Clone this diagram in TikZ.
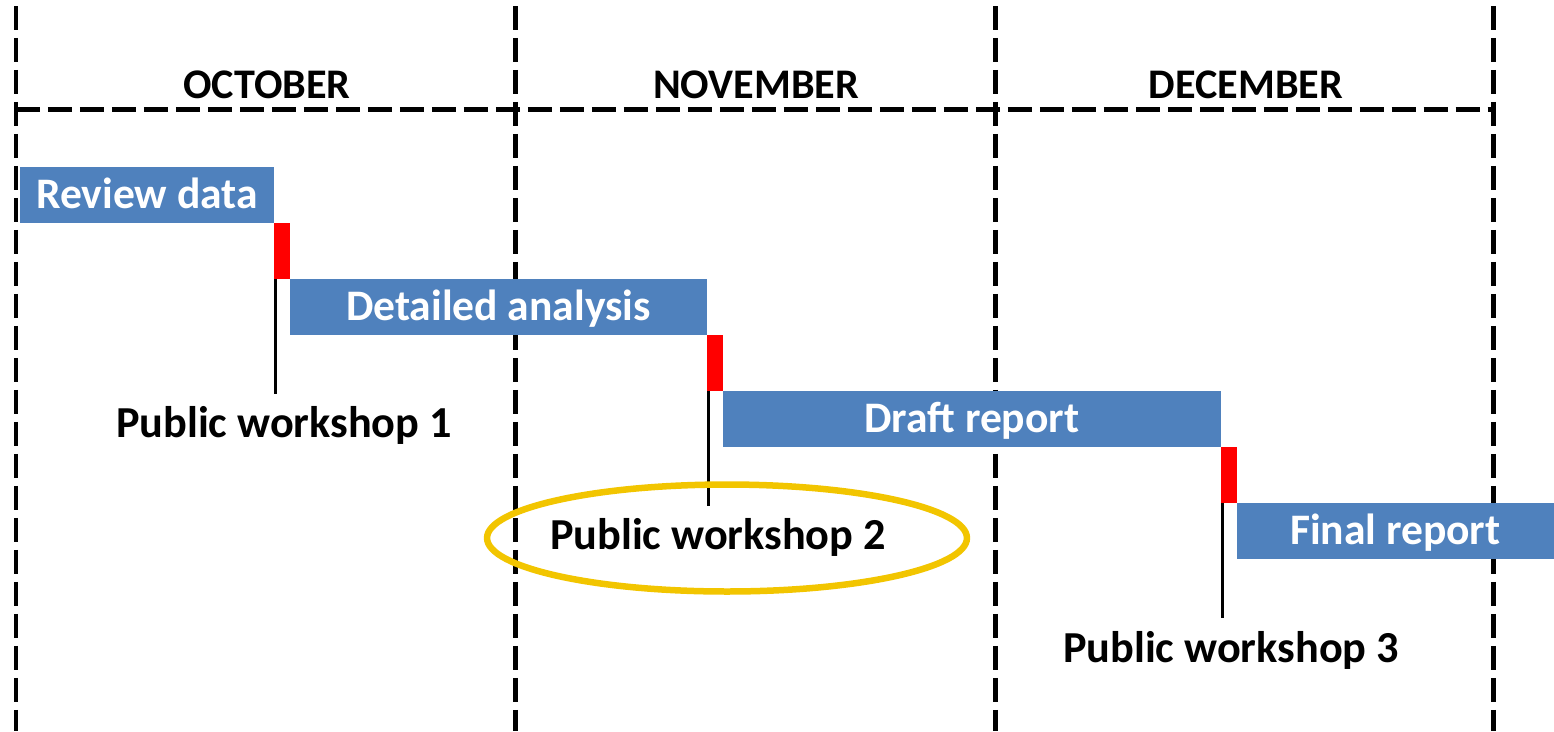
\documentclass[tikz,border=0pt]{standalone}
\usepackage{fontspec}
\setmainfont{Carlito}
\definecolor{barblue}{RGB}{79,129,189}
\definecolor{ringgold}{RGB}{242,197,0}
\begin{document}
\begin{tikzpicture}[x=0.02cm,y=-0.02cm,
  every node/.style={font=\bfseries\fontsize{24}{28}\selectfont,inner sep=0pt,outer sep=0pt},
  bar/.style={fill=barblue,text=white,anchor=north west,minimum height=1.12cm,text height=15.5pt,text depth=0pt,
    font=\bfseries\fontsize{24.8}{28}\selectfont},
  flag/.style={fill=red,anchor=north west,minimum width=0.32cm,minimum height=1.12cm},
  label/.style={anchor=base,font=\bfseries\fontsize{25.2}{28}\selectfont},
  grid/.style={line width=0.1cm,dash pattern=on 0.48cm off 0.16cm},
  pole/.style={line width=0.06cm},
  ring/.style={draw=ringgold,line width=0.13cm}]
\useasboundingbox (0,0) rectangle (1554,731);
\foreach \x in {16,515,995,1493}
   \draw[grid] (\x,6) -- (\x,731);
\draw[grid] (16,109) -- (1494,109);
\foreach[count=\k] \x/\m in {267/OCTOBER,756/NOVEMBER,1246/DECEMBER}
   \node[anchor=base] (m\k) at (\x,98) {\m};
\node[bar,minimum width=5.08cm] (b1) at (20,167) {Review data};
\node[flag] (f1) at (b1.south east) {};
\node[bar,minimum width=8.34cm] (b2) at (f1.south east) {Detailed analysis};
\node[flag] (f2) at (b2.south east) {};
\node[bar,minimum width=9.96cm] (b3) at (f2.south east) {Draft report};
\node[flag] (f3) at (b3.south east) {};
\node[bar,minimum width=6.34cm] (b4) at (f3.south east) {Final report};
\foreach \k in {1,2,3}
   \draw[pole] ([xshift=0.03cm]f\k.south west) -- ++(0,-2.3cm) coordinate (p\k);
\foreach[count=\k] \x/\y in {284/437,718/549,1231/662}
   \node[label] (w\k) at (\x,\y) {Public workshop \k};
\draw[ring] (727,538) ellipse [x radius=4.8cm,y radius=1.07cm];
\end{tikzpicture}
\end{document}
